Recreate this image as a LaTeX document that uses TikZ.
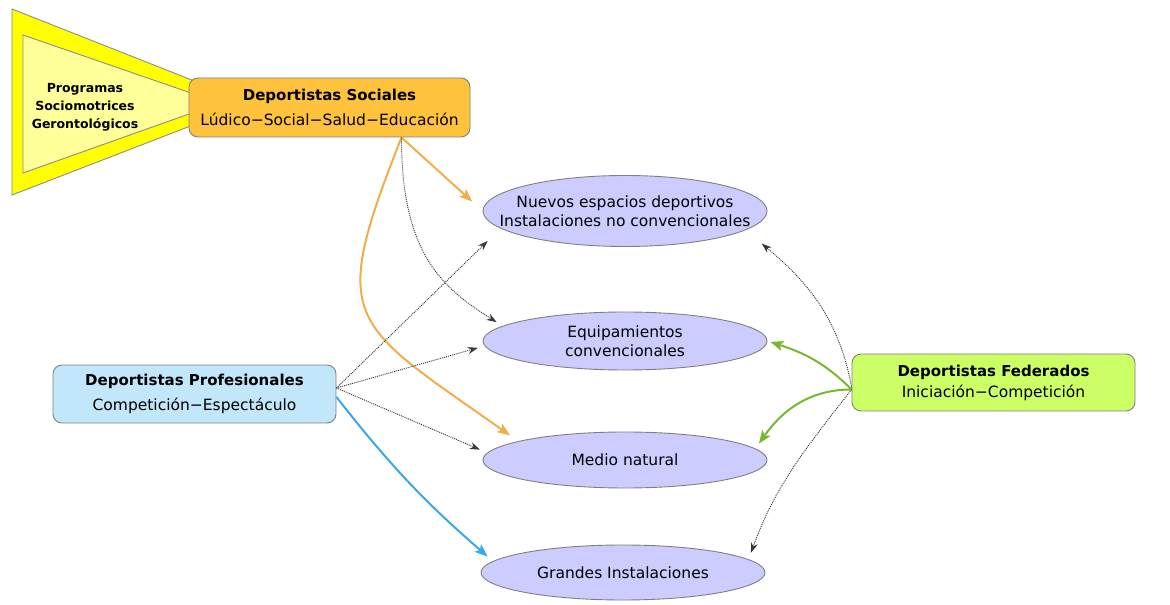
\documentclass[tikz,border=0pt]{standalone}
\usepackage{fontspec}
\setmainfont{DejaVu Sans}
\usetikzlibrary{arrows.meta,shapes.geometric}

\definecolor{amarillo}{HTML}{FFFF00}
\definecolor{amarilloclaro}{HTML}{FFFF99}
\definecolor{socfill}{HTML}{FFC23C}
\definecolor{profill}{HTML}{C2E6FA}
\definecolor{fedfill}{HTML}{CCFF66}
\definecolor{espfill}{HTML}{CCCCFF}
\definecolor{naranja}{HTML}{F0AE48}
\definecolor{celeste}{HTML}{38A8EE}
\definecolor{verde}{HTML}{77B82E}

\newcommand{\titulo}[1]{{\fontsize{15}{25}\selectfont\bfseries #1}}

\begin{document}
\begin{tikzpicture}[x=1pt, y=1pt,
   grupo/.style={draw=black!50, line width=0.9pt, rounded corners=9pt, align=center,
                 minimum width=283pt, minimum height=58pt, inner sep=0pt,
                 font=\fontsize{15.5}{25}\selectfont},
   espacio/.style={ellipse, draw=black!50, line width=0.9pt, fill=espfill, align=center,
                   minimum width=284pt, inner xsep=-30pt, inner ysep=0pt,
                   font=\fontsize{15.5}{19.5}\selectfont},
   programa/.style={align=center, font=\fontsize{12.5}{18}\selectfont\bfseries},
   punteada/.style={draw=black!80, line width=0.9pt, dash pattern=on 1pt off 1pt,
                    -{Stealth[length=10pt, width=7pt, fill=black!75]}},
   fuerte/.style={line width=2pt, -{Stealth[length=13pt, width=10pt, inset=3pt]}}]
\useasboundingbox (0,0) rectangle (1170,605);
% triangulo de programas
\draw[draw=black!45, line width=0.9pt, fill=amarillo] (12,596) -- (250,502) -- (12,410) -- cycle;
\draw[draw=black!45, line width=0.9pt, fill=amarilloclaro] (23,570) -- (220,502) -- (23,432) -- cycle;
\node[programa] (prog) at (85,498) {Programas\\Sociomotrices\\Gerontológicos};
% grupos de deportistas
\node[grupo, fill=socfill, minimum width=281pt, minimum height=59pt] (soc) at (329.5,497.5)
  {\titulo{Deportistas Sociales}\\Lúdico−Social−Salud−Educación};
\node[grupo, fill=profill] (pro) at (194.5,211)
  {\titulo{Deportistas Profesionales}\\Competición−Espectáculo};
\node[grupo, fill=fedfill, minimum height=57pt] (fed) at (993.5,222.5)
  {\titulo{Deportistas Federados}\\[-4pt]Iniciación−Competición};
% espacios
\node[espacio, minimum height=71pt] (e1) at (625,394) {Nuevos espacios deportivos\\Instalaciones no convencionales};
\node[espacio, minimum height=58pt] (e2) at (625,264) {Equipamientos\\convencionales};
\node[espacio, minimum height=56pt] (e3) at (625,145) {Medio natural};
\node[espacio, minimum height=55pt] (e4) at (623,32.5) {Grandes Instalaciones};
% desde deportistas sociales
\draw[fuerte, naranja, shorten >=14pt] ([xshift=72]soc.south) -- (e1.west);
\draw[fuerte, naranja, shorten >=10pt] ([xshift=72]soc.south)
  .. controls (328,282) and (348,284) .. (e3.170);
\draw[punteada, shorten >=7pt] ([xshift=72]soc.south)
  .. controls (401,348) and (446,315) .. (e2.173);
% desde profesionales
\foreach \e/\a/\s in {e1/188/18, e2/182/7, e3/177/8}
  \draw[punteada, shorten >=\s pt] ([yshift=6]pro.east) -- (\e.\a);
\draw[fuerte, celeste, shorten >=7pt] ([yshift=-3]pro.east) to[out=-52, in=139] (e4.175);
% desde federados
\draw[fuerte, verde, shorten >=3pt] ([yshift=-7]fed.west) to[out=135, in=-18] (e2.east);
\draw[fuerte, verde, shorten >=6pt] ([yshift=-7]fed.west) to[out=180, in=55] (e3.5);
\draw[punteada, shorten >=21pt] ([yshift=-5]fed.west) to[out=100, in=-40] (e1.-9);
\draw[punteada, shorten >=7pt] ([yshift=-7]fed.west) to[out=232, in=70] (e4.6);
\end{tikzpicture}
\end{document}
